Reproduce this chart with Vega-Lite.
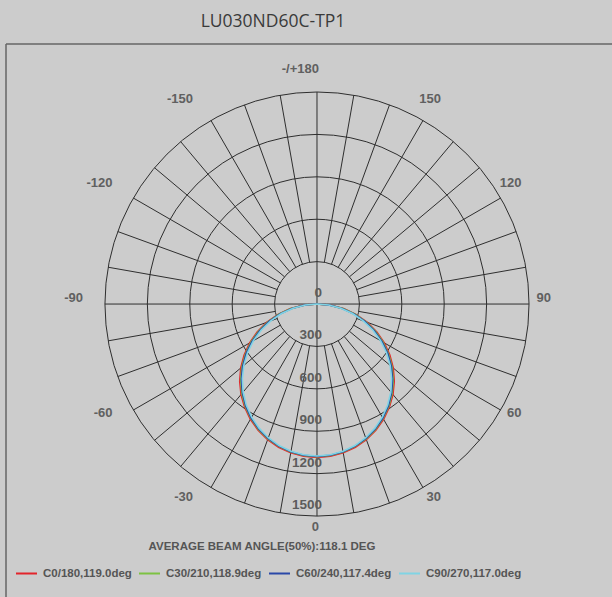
{
  "$schema": "https://vega.github.io/schema/vega-lite/v6.json",
  "width": 606,
  "height": 553,
  "autosize": "none",
  "padding": {"left": 6, "top": 44, "right": 0, "bottom": 0},
  "background": "#cccccc",
  "title": {"text": "LU030ND60C-TP1", "font": "Open Sans", "fontSize": 17.5, "fontWeight": "normal", "color": "#3a3a3a", "dx": -36, "offset": 13},
  "config": {
    "view": {"stroke": null},
    "font": "Liberation Sans",
    "legend": {
      "orient": "none", "legendX": 9, "legendY": 518, "direction": "horizontal", "columns": 4,
      "symbolType": "stroke", "symbolSize": 441, "symbolStrokeWidth": 2,
      "labelFont": "Liberation Sans", "labelFontSize": 11.5, "labelFontWeight": "bold", "labelColor": "#555555",
      "labelOffset": 5, "columnPadding": 3, "labelLimit": 0
    }
  },
  "datasets": {
    "curves": [
      {"a": -90, "c0": 0, "c30": 0, "c60": 0, "c90": 0},
      {"a": -85, "c0": 99, "c30": 94, "c60": 90, "c90": 83},
      {"a": -80, "c0": 195, "c30": 187, "c60": 181, "c90": 171},
      {"a": -75, "c0": 288, "c30": 280, "c60": 272, "c90": 260},
      {"a": -70, "c0": 379, "c30": 369, "c60": 361, "c90": 348},
      {"a": -65, "c0": 467, "c30": 456, "c60": 448, "c90": 435},
      {"a": -60, "c0": 550, "c30": 540, "c60": 532, "c90": 519},
      {"a": -55, "c0": 629, "c30": 619, "c60": 612, "c90": 600},
      {"a": -50, "c0": 704, "c30": 694, "c60": 687, "c90": 676},
      {"a": -45, "c0": 773, "c30": 764, "c60": 757, "c90": 747},
      {"a": -40, "c0": 836, "c30": 827, "c60": 821, "c90": 813},
      {"a": -35, "c0": 892, "c30": 885, "c60": 880, "c90": 872},
      {"a": -30, "c0": 942, "c30": 935, "c60": 931, "c90": 924},
      {"a": -25, "c0": 985, "c30": 979, "c60": 975, "c90": 969},
      {"a": -20, "c0": 1021, "c30": 1015, "c60": 1012, "c90": 1007},
      {"a": -15, "c0": 1049, "c30": 1043, "c60": 1041, "c90": 1037},
      {"a": -10, "c0": 1069, "c30": 1064, "c60": 1061, "c90": 1058},
      {"a": -5, "c0": 1081, "c30": 1076, "c60": 1074, "c90": 1071},
      {"a": 0, "c0": 1085, "c30": 1080, "c60": 1078, "c90": 1075},
      {"a": 5, "c0": 1081, "c30": 1076, "c60": 1074, "c90": 1071},
      {"a": 10, "c0": 1069, "c30": 1064, "c60": 1061, "c90": 1058},
      {"a": 15, "c0": 1049, "c30": 1043, "c60": 1041, "c90": 1037},
      {"a": 20, "c0": 1021, "c30": 1015, "c60": 1012, "c90": 1007},
      {"a": 25, "c0": 985, "c30": 979, "c60": 975, "c90": 969},
      {"a": 30, "c0": 942, "c30": 935, "c60": 931, "c90": 924},
      {"a": 35, "c0": 892, "c30": 885, "c60": 880, "c90": 872},
      {"a": 40, "c0": 836, "c30": 827, "c60": 821, "c90": 813},
      {"a": 45, "c0": 773, "c30": 764, "c60": 757, "c90": 747},
      {"a": 50, "c0": 704, "c30": 694, "c60": 687, "c90": 676},
      {"a": 55, "c0": 629, "c30": 619, "c60": 612, "c90": 600},
      {"a": 60, "c0": 550, "c30": 540, "c60": 532, "c90": 519},
      {"a": 65, "c0": 467, "c30": 456, "c60": 448, "c90": 435},
      {"a": 70, "c0": 379, "c30": 369, "c60": 361, "c90": 348},
      {"a": 75, "c0": 288, "c30": 280, "c60": 272, "c90": 260},
      {"a": 80, "c0": 195, "c30": 187, "c60": 181, "c90": 171},
      {"a": 85, "c0": 99, "c30": 94, "c60": 90, "c90": 83},
      {"a": 90, "c0": 0, "c30": 0, "c60": 0, "c90": 0}
    ]
  },
  "layer": [
    {
      "data": {"values": [{"side": "left"}]},
      "mark": {"type": "rule", "color": "#666666", "strokeWidth": 1.5},
      "encoding": {
        "x": {"datum": -2200, "type": "quantitative", "scale": {"domain": [-2200, 2087], "nice": false, "zero": false}, "axis": null},
        "y": {"datum": -2073, "type": "quantitative", "scale": {"domain": [-2073, 1840], "nice": false, "zero": false}, "axis": null},
        "y2": {"datum": 1840}
      }
    },
    {
      "data": {"values": [{"side": "top"}]},
      "mark": {"type": "rule", "color": "#666666", "strokeWidth": 1.5},
      "encoding": {
        "x": {"datum": -2200, "type": "quantitative", "scale": {"domain": [-2200, 2087], "nice": false, "zero": false}, "axis": null},
        "x2": {"datum": 2087},
        "y": {"datum": 1840, "type": "quantitative", "scale": {"domain": [-2073, 1840], "nice": false, "zero": false}, "axis": null}
      }
    },
    {
      "data": {"values": [{"r": 300}, {"r": 600}, {"r": 900}, {"r": 1200}, {"r": 1500}]},
      "mark": {"type": "point", "shape": "circle", "filled": false, "opacity": 1, "strokeWidth": 1, "color": "#2e2e2e"},
      "encoding": {
        "x": {"datum": 0, "type": "quantitative", "scale": {"domain": [-2200, 2087], "nice": false, "zero": false}, "axis": null},
        "y": {"datum": 0, "type": "quantitative", "scale": {"domain": [-2073, 1840], "nice": false, "zero": false}, "axis": null},
        "size": {"field": "r", "type": "quantitative", "scale": {"type": "pow", "exponent": 2, "domain": [0, 1500], "range": [0, 179836], "zero": true}, "legend": null}
      }
    },
    {
      "data": {"values": [
        {"a": 0}, {"a": 10}, {"a": 20}, {"a": 30}, {"a": 40}, {"a": 50}, {"a": 60}, {"a": 70}, {"a": 80},
        {"a": 90}, {"a": 100}, {"a": 110}, {"a": 120}, {"a": 130}, {"a": 140}, {"a": 150}, {"a": 160}, {"a": 170},
        {"a": 180}, {"a": 190}, {"a": 200}, {"a": 210}, {"a": 220}, {"a": 230}, {"a": 240}, {"a": 250}, {"a": 260},
        {"a": 270}, {"a": 280}, {"a": 290}, {"a": 300}, {"a": 310}, {"a": 320}, {"a": 330}, {"a": 340}, {"a": 350}
      ]},
      "transform": [
        {"calculate": "datum.a*PI/180", "as": "rad"},
        {"calculate": "datum.a % 90 == 0 ? 0 : 300", "as": "r0"},
        {"calculate": "datum.r0*sin(datum.rad)", "as": "x"},
        {"calculate": "-datum.r0*cos(datum.rad)", "as": "y"},
        {"calculate": "1500*sin(datum.rad)", "as": "x2"},
        {"calculate": "-1500*cos(datum.rad)", "as": "y2"}
      ],
      "mark": {"type": "rule", "color": "#2e2e2e", "strokeWidth": 1},
      "encoding": {
        "x": {"field": "x", "type": "quantitative", "scale": {"domain": [-2200, 2087], "nice": false, "zero": false}, "axis": null},
        "y": {"field": "y", "type": "quantitative", "scale": {"domain": [-2073, 1840], "nice": false, "zero": false}, "axis": null},
        "x2": {"field": "x2"},
        "y2": {"field": "y2"}
      }
    },
    {
      "data": {"values": [
        {"a": 0, "t": "0"}, {"a": 30, "t": "30"}, {"a": 60, "t": "60"}, {"a": 90, "t": "90"},
        {"a": 120, "t": "120"}, {"a": 150, "t": "150"}, {"a": 180, "t": "-/+180"},
        {"a": -150, "t": "-150"}, {"a": -120, "t": "-120"}, {"a": -90, "t": "-90"},
        {"a": -60, "t": "-60"}, {"a": -30, "t": "-30"}
      ]},
      "transform": [
        {"calculate": "datum.a*PI/180", "as": "rad"},
        {"calculate": "1556*sin(datum.rad) + (datum.a % 180 == 0 ? 14 : (datum.a > 0 ? 99 : -99))", "as": "x"},
        {"calculate": "-1623*cos(datum.rad)", "as": "y"}
      ],
      "mark": {"type": "text", "align": "right", "baseline": "middle", "dy": -6, "fontSize": 13, "fontWeight": "bold", "color": "#606060"},
      "encoding": {
        "x": {"field": "x", "type": "quantitative", "scale": {"domain": [-2200, 2087], "nice": false, "zero": false}, "axis": null},
        "y": {"field": "y", "type": "quantitative", "scale": {"domain": [-2073, 1840], "nice": false, "zero": false}, "axis": null},
        "text": {"field": "t"}
      }
    },
    {
      "data": {"name": "curves"},
      "transform": [
        {"fold": ["c0", "c30", "c60", "c90"], "as": ["s", "i"]},
        {"calculate": "datum.a*PI/180", "as": "rad"},
        {"calculate": "datum.i*sin(datum.rad)", "as": "x"},
        {"calculate": "-datum.i*cos(datum.rad)", "as": "y"}
      ],
      "mark": {"type": "line", "strokeWidth": 1.6, "interpolate": "linear"},
      "encoding": {
        "x": {"field": "x", "type": "quantitative", "scale": {"domain": [-2200, 2087], "nice": false, "zero": false}, "axis": null},
        "y": {"field": "y", "type": "quantitative", "scale": {"domain": [-2073, 1840], "nice": false, "zero": false}, "axis": null},
        "order": {"field": "a", "type": "quantitative"},
        "color": {
          "field": "s", "type": "nominal",
          "scale": {"domain": ["c0", "c30", "c60", "c90"], "range": ["#e3242b", "#7dc242", "#2a48a8", "#80d4e4"]},
          "legend": {"title": null, "labelExpr": "datum.label == 'c0' ? 'C0/180,119.0deg' : datum.label == 'c30' ? 'C30/210,118.9deg' : datum.label == 'c60' ? 'C60/240,117.4deg' : 'C90/270,117.0deg'"}
        }
      }
    },
    {
      "data": {"values": [{"v": 0}, {"v": 300}, {"v": 600}, {"v": 900}, {"v": 1200}, {"v": 1500}]},
      "transform": [{"calculate": "-datum.v", "as": "y"}],
      "mark": {"type": "text", "align": "right", "baseline": "middle", "dx": 5, "dy": -11, "fontSize": 13.5, "fontWeight": "bold", "color": "#5c5c5c"},
      "encoding": {
        "x": {"datum": 0, "type": "quantitative", "scale": {"domain": [-2200, 2087], "nice": false, "zero": false}, "axis": null},
        "y": {"field": "y", "type": "quantitative", "scale": {"domain": [-2073, 1840], "nice": false, "zero": false}, "axis": null},
        "text": {"field": "v", "type": "quantitative"}
      }
    },
    {
      "data": {"values": [{"t": "AVERAGE BEAM ANGLE(50%):118.1 DEG"}]},
      "mark": {"type": "text", "align": "center", "baseline": "middle", "fontSize": 11.5, "fontWeight": "bold", "color": "#555555"},
      "encoding": {
        "x": {"datum": -389, "type": "quantitative", "scale": {"domain": [-2200, 2087], "nice": false, "zero": false}, "axis": null},
        "y": {"datum": -1719, "type": "quantitative", "scale": {"domain": [-2073, 1840], "nice": false, "zero": false}, "axis": null},
        "text": {"field": "t"}
      }
    }
  ]
}
